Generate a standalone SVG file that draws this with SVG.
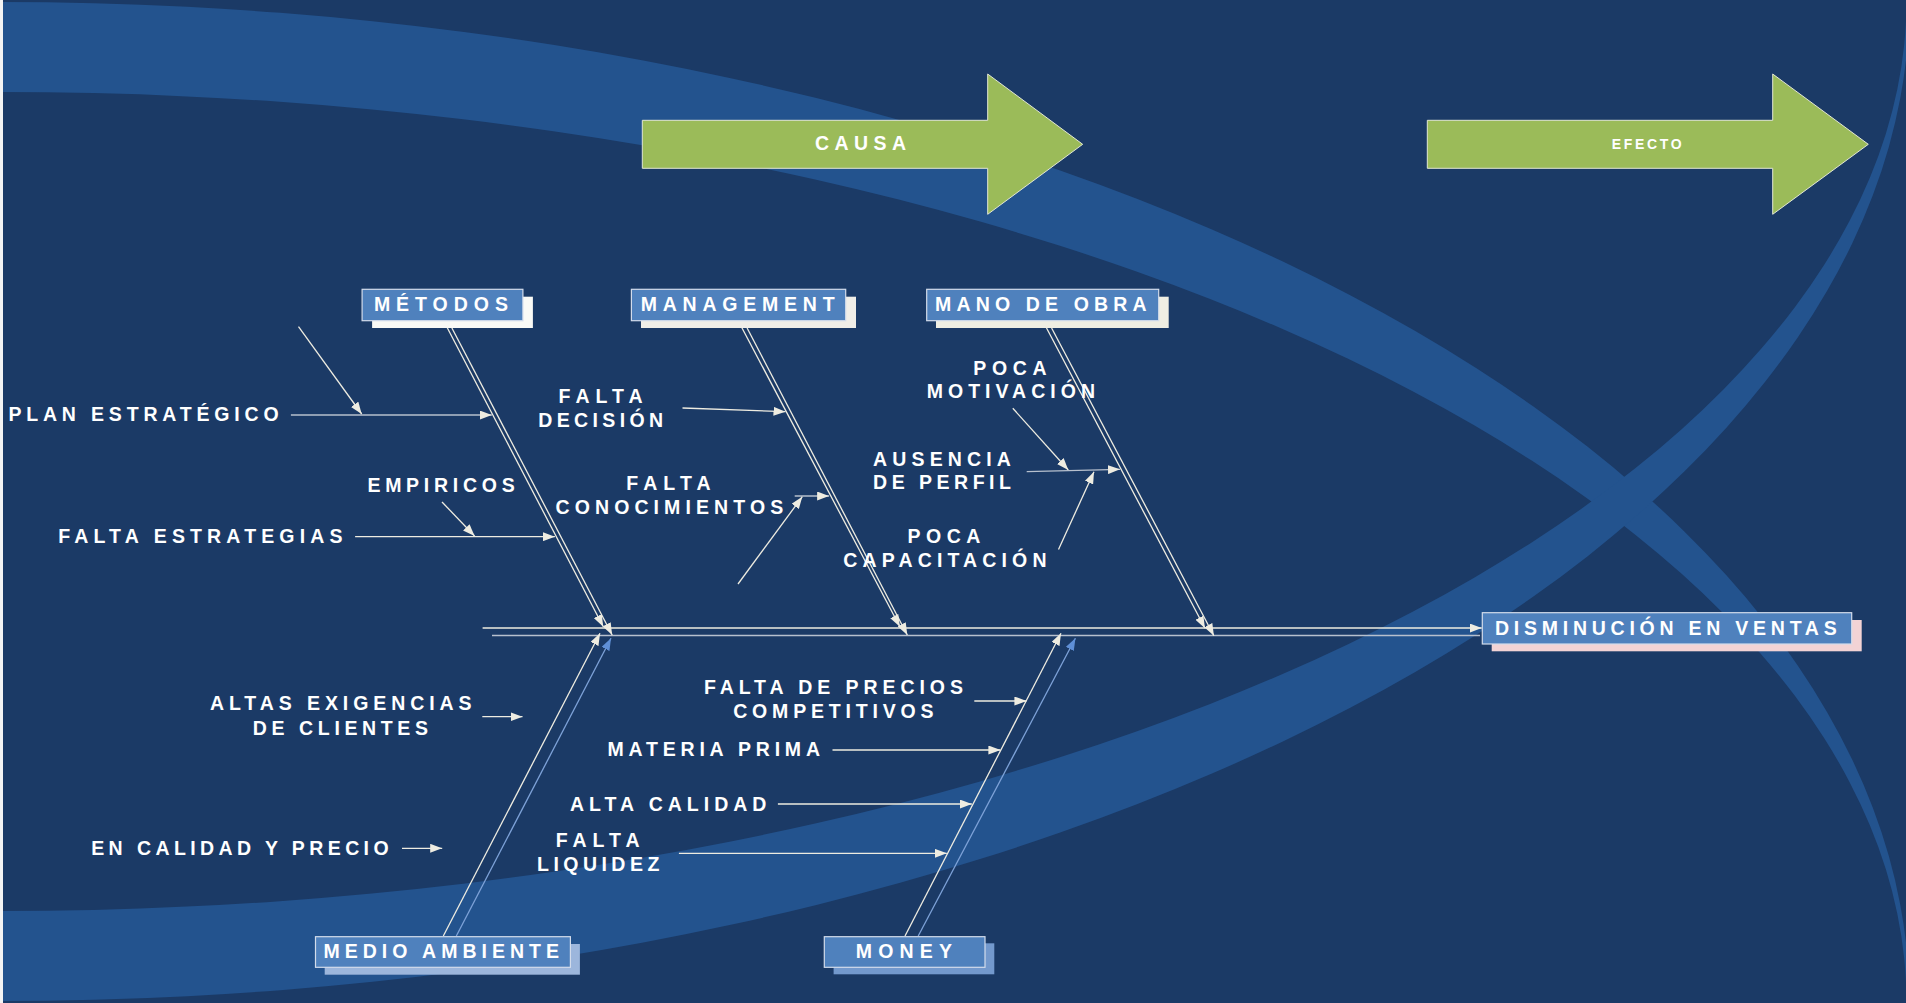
<svg xmlns="http://www.w3.org/2000/svg" width="1906" height="1003" viewBox="0 0 1906 1003">
<defs>
<style>
.t{font-family:"Liberation Sans",Arial,sans-serif;font-weight:bold;fill:#FFFFFF;font-size:19.5px}
.box{fill:#4F81BD;stroke:#D3DCEB;stroke-width:1.2}
.ln{stroke:#EEECE1;stroke-width:1.3;fill:none}
.lg{stroke:#B7C0CE;stroke-width:1.3;fill:none}
.lb{stroke:#7EA2D8;stroke-width:1.3;fill:none}
.arw{fill:#9BBB59;stroke:#E2E6D4;stroke-width:1}
</style>
<marker id="ah" viewBox="0 0 12 9" refX="12" refY="4.5" markerWidth="12" markerHeight="9" markerUnits="userSpaceOnUse" orient="auto"><path d="M0,0 L12,4.5 L0,9 z" fill="#EEECE1"/></marker>
<marker id="ahb" viewBox="0 0 12 9" refX="12" refY="4.5" markerWidth="12" markerHeight="9" markerUnits="userSpaceOnUse" orient="auto"><path d="M0,0 L12,4.5 L0,9 z" fill="#5F8FD6"/></marker>
</defs>
<rect x="0" y="0" width="1906" height="1003" fill="#1B3A66"/>
<g id="background-bands" fill="#23538E" fill-rule="evenodd">
<path d="M -1909.5,1003 A 1909.5,1001 0 1 1 1909.5,1003 A 1909.5,1001 0 1 1 -1909.5,1003 Z M -1906.5,1003 A 1906.5,911 0 1 1 1906.5,1003 A 1906.5,911 0 1 1 -1906.5,1003 Z"/>
<path d="M -1909.5,0 A 1909.5,1001 0 1 1 1909.5,0 A 1909.5,1001 0 1 1 -1909.5,0 Z M -1906.5,0 A 1906.5,911 0 1 1 1906.5,0 A 1906.5,911 0 1 1 -1906.5,0 Z"/>
</g>
<rect x="0" y="0" width="3" height="1003" fill="#F4F4F4"/>

<g id="causa">
<polygon class="arw" points="642.3,120.3 987.7,120.3 987.7,74 1082.7,144.3 987.7,214.3 987.7,168.3 642.3,168.3"/>
<text class="t" x="815" y="150" textLength="91" lengthAdjust="spacing">CAUSA</text>
</g>
<g id="efecto">
<polygon class="arw" points="1427.3,120.3 1772.7,120.3 1772.7,74 1868.3,144.3 1772.7,214.3 1772.7,168.3 1427.3,168.3"/>
<text class="t" x="1611.7" y="149.3" style="font-size:14px" textLength="70" lengthAdjust="spacing">EFECTO</text>
</g>

<g id="connectors">
<!-- spine -->
<line class="ln" x1="482.6" y1="628" x2="1481.7" y2="628" marker-end="url(#ah)"/>
<line class="lg" x1="492" y1="635.5" x2="1480" y2="635.5"/>
<!-- top bones -->
<line class="ln" x1="443.6" y1="320.7" x2="603.3" y2="626.7" marker-end="url(#ah)"/>
<line class="ln" x1="451.9" y1="328" x2="612.2" y2="635" marker-end="url(#ah)"/>
<line class="ln" x1="738.2" y1="320.7" x2="899.9" y2="626.7" marker-end="url(#ah)"/>
<line class="ln" x1="747.1" y1="328" x2="907.3" y2="635" marker-end="url(#ah)"/>
<line class="ln" x1="1042.7" y1="320.7" x2="1205" y2="628.3" marker-end="url(#ah)"/>
<line class="ln" x1="1051.6" y1="328" x2="1213.9" y2="635.7" marker-end="url(#ah)"/>
<!-- bottom bones -->
<line class="ln" x1="443.3" y1="936" x2="600" y2="633.3" marker-end="url(#ah)"/>
<line class="lb" x1="456.3" y1="936" x2="611" y2="638.3" marker-end="url(#ahb)"/>
<line class="ln" x1="905" y1="936" x2="1061" y2="633.3" marker-end="url(#ah)"/>
<line class="lb" x1="918.2" y1="936" x2="1075.4" y2="638.3" marker-end="url(#ahb)"/>
<!-- sub causes -->
<line class="lg" x1="290.9" y1="415" x2="491.8" y2="415" marker-end="url(#ah)"/>
<line class="ln" x1="298.5" y1="326.7" x2="361.7" y2="414" marker-end="url(#ah)"/>
<line class="ln" x1="355.1" y1="536.7" x2="554.9" y2="536.7" marker-end="url(#ah)"/>
<line class="ln" x1="442" y1="502" x2="474.6" y2="536" marker-end="url(#ah)"/>
<line class="ln" x1="682.5" y1="408" x2="785.5" y2="411.7" marker-end="url(#ah)"/>
<line class="lg" x1="794.7" y1="496" x2="829.1" y2="496" marker-end="url(#ah)"/>
<line class="ln" x1="738" y1="584" x2="802.3" y2="496.7" marker-end="url(#ah)"/>
<line class="ln" x1="1012.8" y1="408.3" x2="1068.3" y2="470" marker-end="url(#ah)"/>
<line class="lg" x1="1026.7" y1="471.7" x2="1120" y2="469.3" marker-end="url(#ah)"/>
<line class="ln" x1="1058.5" y1="549.5" x2="1094" y2="471.7" marker-end="url(#ah)"/>
<line class="ln" x1="482.3" y1="716.7" x2="522.5" y2="716.7" marker-end="url(#ah)"/>
<line class="ln" x1="402" y1="848.3" x2="442.2" y2="848.3" marker-end="url(#ah)"/>
<line class="ln" x1="974.3" y1="701" x2="1026.4" y2="701" marker-end="url(#ah)"/>
<line class="ln" x1="832.5" y1="750" x2="1000.4" y2="750" marker-end="url(#ah)"/>
<line class="ln" x1="777.9" y1="804" x2="971.8" y2="804" marker-end="url(#ah)"/>
<line class="ln" x1="678.9" y1="853.3" x2="946.8" y2="853.3" marker-end="url(#ah)"/>
</g>

<g id="metodos">
<rect x="372.1" y="296.7" width="160.8" height="31.3" fill="#FAFAF6"/>
<rect class="box" x="362.1" y="289.3" width="160.8" height="31.4"/>
<text class="t" x="373.9" y="310.7" textLength="134" lengthAdjust="spacing">MÉTODOS</text>
</g>
<g id="management">
<rect x="641" y="296.7" width="215" height="31.3" fill="#F0EEE8"/>
<rect class="box" x="631.4" y="289.3" width="214.3" height="31.4"/>
<text class="t" x="640.7" y="310.7" textLength="193.9" lengthAdjust="spacing">MANAGEMENT</text>
</g>
<g id="mano-de-obra">
<rect x="936" y="296.7" width="232.7" height="31.3" fill="#EFEEE3"/>
<rect class="box" x="926.7" y="289.3" width="232" height="31.4"/>
<text class="t" x="935" y="310.7" textLength="211.7" lengthAdjust="spacing">MANO DE OBRA</text>
</g>
<g id="disminucion-en-ventas">
<rect x="1491.7" y="620" width="370" height="31.3" fill="#F2D3D5"/>
<rect class="box" x="1482.3" y="612.7" width="369.4" height="31.3"/>
<text class="t" x="1495" y="635" textLength="341.7" lengthAdjust="spacing">DISMINUCIÓN EN VENTAS</text>
</g>
<g id="medio-ambiente">
<rect x="324.7" y="944" width="255.2" height="30.7" fill="#9CB6DC"/>
<rect class="box" x="315.5" y="936.7" width="254.9" height="30.6"/>
<text class="t" x="323.5" y="958.3" textLength="235.4" lengthAdjust="spacing">MEDIO AMBIENTE</text>
</g>
<g id="money">
<rect x="833.6" y="943.3" width="160.7" height="31" fill="#7399CD"/>
<rect class="box" x="824.3" y="936.7" width="160.7" height="30.6"/>
<text class="t" x="855.7" y="958.3" textLength="96.4" lengthAdjust="spacing">MONEY</text>
</g>

<g id="plan-estrategico"><text class="t" x="8.4" y="420.7" textLength="270.2" lengthAdjust="spacing">PLAN ESTRATÉGICO</text></g>
<g id="empiricos"><text class="t" x="367.4" y="492.3" textLength="147.3" lengthAdjust="spacing">EMPIRICOS</text></g>
<g id="falta-estrategias"><text class="t" x="58.2" y="542.7" textLength="284.3" lengthAdjust="spacing">FALTA ESTRATEGIAS</text></g>
<g id="falta-decision">
<text class="t" x="558.6" y="402.7" textLength="84" lengthAdjust="spacing">FALTA</text>
<text class="t" x="538.2" y="426.7" textLength="125" lengthAdjust="spacing">DECISIÓN</text>
</g>
<g id="falta-conocimientos">
<text class="t" x="626.3" y="490" textLength="84.2" lengthAdjust="spacing">FALTA</text>
<text class="t" x="555.5" y="514" textLength="227.7" lengthAdjust="spacing">CONOCIMIENTOS</text>
</g>
<g id="poca-motivacion">
<text class="t" x="973.3" y="375" textLength="73.4" lengthAdjust="spacing">POCA</text>
<text class="t" x="926.7" y="398.3" textLength="168.3" lengthAdjust="spacing">MOTIVACIÓN</text>
</g>
<g id="ausencia-de-perfil">
<text class="t" x="873.1" y="466" textLength="137.8" lengthAdjust="spacing">AUSENCIA</text>
<text class="t" x="873.1" y="489.3" textLength="137.8" lengthAdjust="spacing">DE PERFIL</text>
</g>
<g id="poca-capacitacion">
<text class="t" x="907.6" y="542.7" textLength="72.7" lengthAdjust="spacing">POCA</text>
<text class="t" x="843.3" y="566.7" textLength="203.2" lengthAdjust="spacing">CAPACITACIÓN</text>
</g>
<g id="altas-exigencias">
<text class="t" x="209.9" y="710" textLength="261.7" lengthAdjust="spacing">ALTAS EXIGENCIAS</text>
<text class="t" x="252.7" y="735" textLength="175.3" lengthAdjust="spacing">DE CLIENTES</text>
</g>
<g id="en-calidad-y-precio"><text class="t" x="91.2" y="855" textLength="297.4" lengthAdjust="spacing">EN CALIDAD Y PRECIO</text></g>
<g id="falta-de-precios">
<text class="t" x="703.9" y="694" textLength="259" lengthAdjust="spacing">FALTA DE PRECIOS</text>
<text class="t" x="733.2" y="718.3" textLength="200.4" lengthAdjust="spacing">COMPETITIVOS</text>
</g>
<g id="materia-prima"><text class="t" x="607.5" y="756" textLength="212.5" lengthAdjust="spacing">MATERIA PRIMA</text></g>
<g id="alta-calidad"><text class="t" x="570" y="810.7" textLength="196.4" lengthAdjust="spacing">ALTA CALIDAD</text></g>
<g id="falta-liquidez">
<text class="t" x="555.7" y="847.3" textLength="83.9" lengthAdjust="spacing">FALTA</text>
<text class="t" x="537.1" y="870.7" textLength="122.2" lengthAdjust="spacing">LIQUIDEZ</text>
</g>
</svg>
